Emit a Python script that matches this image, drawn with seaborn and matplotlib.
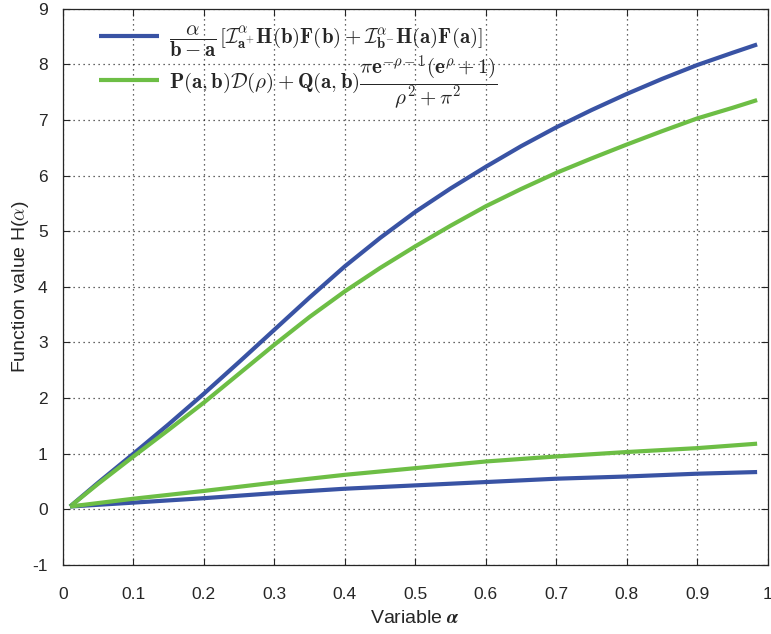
import matplotlib
matplotlib.use("Agg")
import matplotlib.pyplot as plt
import seaborn as sns
import numpy as np

# Data
x_upper = [0.01, 0.05, 0.1, 0.15, 0.2, 0.25, 0.3, 0.35, 0.4, 0.45, 0.5,
           0.55, 0.6, 0.65, 0.7, 0.75, 0.8, 0.85, 0.9, 0.95, 0.985]
blue_upper = [0.05, 0.48, 1.0, 1.53, 2.08, 2.65, 3.23, 3.81, 4.37, 4.88, 5.35,
              5.77, 6.16, 6.53, 6.87, 7.18, 7.47, 7.74, 7.99, 8.21, 8.36]
green_upper = [0.05, 0.46, 0.95, 1.43, 1.92, 2.44, 2.96, 3.46, 3.92, 4.34, 4.73,
               5.1, 5.45, 5.76, 6.05, 6.31, 6.56, 6.8, 7.03, 7.22, 7.36]

x_lower = [0.01, 0.1, 0.2, 0.3, 0.4, 0.5, 0.6, 0.7, 0.8, 0.9, 0.985]
blue_lower = [0.05, 0.12, 0.2, 0.29, 0.37, 0.43, 0.49, 0.55, 0.59, 0.64, 0.67]
green_lower = [0.05, 0.19, 0.33, 0.48, 0.62, 0.74, 0.86, 0.95, 1.03, 1.10, 1.18]

x_ticks = [0, 0.1, 0.2, 0.3, 0.4, 0.5, 0.6, 0.7, 0.8, 0.9, 1]
x_ticklabels = ['0', '0.1', '0.2', '0.3', '0.4', '0.5', '0.6', '0.7', '0.8', '0.9', '1']
y_ticks = [-1, 0, 1, 2, 3, 4, 5, 6, 7, 8, 9]

label_blue = (r'$\dfrac{\alpha}{\mathbf{b-a}}\,[\mathcal{I}^{\alpha}_{\mathbf{a}^{+}}'
              r'\mathbf{H}(\mathbf{b})\mathbf{F}(\mathbf{b})+\mathcal{I}^{\alpha}_{\mathbf{b}^{-}}'
              r'\mathbf{H}(\mathbf{a})\mathbf{F}(\mathbf{a})]$')
label_green = (r'$\mathbf{P}(\mathbf{a},\mathbf{b})\mathcal{D}(\rho)+\mathbf{Q}(\mathbf{a},\mathbf{b})'
               r'\dfrac{\pi\mathbf{e}^{-\rho-\mathbf{1}}(\mathbf{e}^{\rho}+\mathbf{1})}'
               r'{\rho^{\mathbf{2}}+\pi^{\mathbf{2}}}$')

BLUE = '#3953a4'
GREEN = '#6dbe45'
LW = 3.0

sns.set_theme(style="ticks")
plt.rcParams['font.family'] = ['Liberation Sans', 'DejaVu Sans']
plt.rcParams['mathtext.fontset'] = 'cm'
plt.rcParams['axes.unicode_minus'] = False

fig = plt.figure(figsize=(7.71, 6.34), dpi=100)
ax = fig.add_axes([0.0817, 0.109, 0.914, 0.877])

line_kw = dict(ax=ax, linewidth=LW, solid_joinstyle='round', solid_capstyle='butt')
sns.lineplot(x=x_upper, y=blue_upper, color=BLUE, label=label_blue, **line_kw)
sns.lineplot(x=x_upper, y=green_upper, color=GREEN, label=label_green, **line_kw)
sns.lineplot(x=x_lower, y=blue_lower, color=BLUE, legend=False, **line_kw)
sns.lineplot(x=x_lower, y=green_lower, color=GREEN, legend=False, **line_kw)

ax.set_xlim(0, 1)
ax.set_ylim(-1, 9)
ax.set_xticks(x_ticks)
ax.set_xticklabels(x_ticklabels)
ax.set_yticks(y_ticks)
ax.tick_params(direction='in', length=5, width=0.8, labelsize=12.5, colors='#262626',
               top=True, right=True)
ax.tick_params(axis='x', pad=16)
ax.tick_params(axis='y', pad=11)
for s in ax.spines.values():
    s.set_linewidth(0.9)
    s.set_color('#262626')
ax.grid(True, linestyle=(0, (1, 3)), color='black', linewidth=0.9, alpha=0.8)

ax.set_xlabel(r'Variable $\boldsymbol{\alpha}$', fontsize=14, color='#262626', labelpad=6)
ax.set_ylabel(r'Function value H($\alpha$)', fontsize=14, color='#262626', labelpad=1)

leg = ax.legend(loc='upper left', frameon=False, fontsize=15, handlelength=2.9,
                borderaxespad=0.3, labelspacing=-0.3, handletextpad=0.45,
                bbox_to_anchor=(0.03, 1.0))

fig.savefig('out.png', dpi=100)
